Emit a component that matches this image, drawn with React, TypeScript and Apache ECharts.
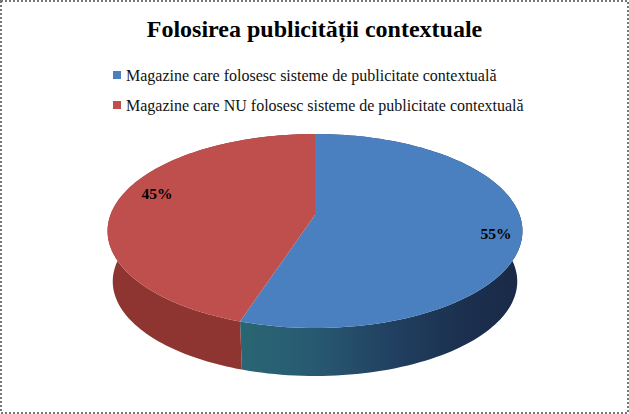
import React, { useEffect, useRef } from "react";
import * as echarts from "echarts";

const titleText = "Folosirea publicității contextuale";
const categories = [
  "Magazine care folosesc sisteme de publicitate contextuală",
  "Magazine care NU folosesc sisteme de publicitate contextuală",
];
const shares = [55, 45];
const topColors = ["#4a7fc0", "#bf4f4c"];

const FONT = '"Liberation Serif", "Times New Roman", serif';
// perspective projection of the tilted disc
const CX = 315, APEX_Y = 215, RX = 204.6, RY = 58.9, PERSP = -0.165;
const BOTTOM_SCALE = 0.975, BOTTOM_DY = 50.8;
const TOTAL = shares.reduce((a, b) => a + b, 0);

function project(angle: number, r = 1): [number, number] {
  const u = Math.sin(angle) * r, v = -Math.cos(angle) * r;
  const d = 1 + PERSP * v;
  return [CX + (RX * u) / d, (APEX_Y + RY * v) / d];
}
function projectBottom(angle: number): [number, number] {
  const [x, y] = project(angle);
  return [CX + (x - CX) * BOTTOM_SCALE, APEX_Y + BOTTOM_DY + (y - APEX_Y) * BOTTOM_SCALE];
}
function arc(a0: number, a1: number, fn: (a: number) => [number, number]) {
  const pts: [number, number][] = [];
  const n = 120;
  for (let i = 0; i <= n; i++) pts.push(fn(a0 + ((a1 - a0) * i) / n));
  return pts;
}

const wallFills = [
  new echarts.graphic.LinearGradient(0, 0, 1, 0, [
    { offset: 0, color: "#2a6674" },
    { offset: 0.25, color: "#285a72" },
    { offset: 0.55, color: "#213f60" },
    { offset: 0.8, color: "#1b2f4e" },
    { offset: 1, color: "#1a2a48" },
  ]),
  "#8e3532",
];
const labelOffsets: [number, number][] = [[-1, 5], [16, -9]];

function makeSeries(idx: number) {
  const before = shares.slice(0, idx).reduce((a, b) => a + b, 0);
  return {
    type: "custom",
    name: categories[idx],
    coordinateSystem: "none",
    itemStyle: { color: topColors[idx] },
    silent: true,
    clip: false,
    data: [[shares[idx]]],
    renderItem: (_p: any, api: any) => {
      const value = api.value(0) as number;
      const a0 = (before / TOTAL) * Math.PI * 2;
      const a1 = ((before + value) / TOTAL) * Math.PI * 2;
      const top = arc(a0, a1, (a) => project(a));
      const bottom = arc(a0, a1, projectBottom).reverse();
      const mid = (a0 + a1) / 2;
      const [lx, ly] = project(mid, 0.88);
      return {
        type: "group",
        children: [
          {
            type: "polygon",
            shape: { points: [...top, ...bottom] },
            style: { fill: wallFills[idx] },
            z2: 1,
          },
          {
            type: "polygon",
            shape: { points: [[CX, APEX_Y], ...top] },
            style: { fill: topColors[idx] },
            z2: 2,
          },
          {
            type: "text",
            x: lx + labelOffsets[idx][0],
            y: ly + labelOffsets[idx][1],
            z2: 3,
            style: {
              text: `${value}%`,
              fill: "#000",
              font: `bold 15.5px ${FONT}`,
              align: "center",
              verticalAlign: "middle",
            },
          },
        ],
      };
    },
  };
}

export default function App() {
  const ref = useRef<HTMLDivElement>(null);
  useEffect(() => {
    const chart = echarts.init(ref.current!, undefined, { renderer: "svg" });
    chart.setOption({
      animation: false,
      backgroundColor: "#ffffff",
      title: {
        text: titleText,
        left: "center",
        top: 17,
        padding: 0,
        textStyle: { fontFamily: FONT, fontWeight: "bold", fontSize: 24, color: "#000" },
      },
      legend: {
        data: categories,
        orient: "vertical",
        left: 113,
        top: 67,
        padding: 0,
        itemGap: 14,
        itemWidth: 8,
        itemHeight: 8,
        icon: "rect",
        selectedMode: false,
        textStyle: { fontFamily: FONT, fontSize: 16, color: "#111" },
      },
      graphic: [
        {
          type: "rect",
          silent: true,
          shape: { x: 1, y: 1, width: 627, height: 412 },
          style: { fill: "none", stroke: "#777", lineWidth: 2, lineDash: [2, 2] },
        },
      ],
      series: categories.map((_, i) => makeSeries(i)),
    });
    return () => chart.dispose();
  }, []);
  return <div ref={ref} style={{ position: "absolute", left: 0, top: 0, width: 629, height: 414 }} />;
}
